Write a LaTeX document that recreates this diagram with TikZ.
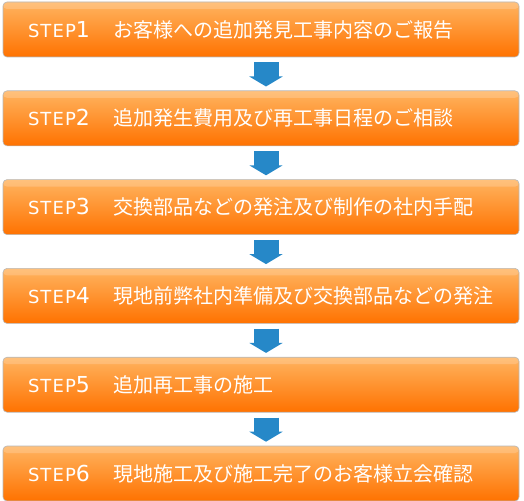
\documentclass[tikz,border=0pt]{standalone}
\usepackage{fontspec}
\setmainfont{DejaVu Sans}
\newfontfamily\jpfont{Noto Sans CJK JP}
\usetikzlibrary{calc,positioning,arrows.meta}
\definecolor{orangetop}{RGB}{255,180,96}
\definecolor{orangebot}{RGB}{255,114,0}
\definecolor{arrowblue}{RGB}{38,136,200}
\newcommand{\stepno}[1]{{\rmfamily\fontsize{18}{18}\selectfont\addfontfeature{LetterSpace=6}STEP}{\rmfamily\fontsize{22}{22}\selectfont #1}\hspace{24pt}}
\tikzset{
  stepbox/.style={rounded corners=4pt, draw=black!28, line width=0.6pt,
    top color=orangetop, bottom color=orangebot,
    minimum width=516pt, minimum height=55pt, text width=466pt, inner xsep=25pt,
    align=left, text=white, font=\jpfont\fontsize{20}{20}\selectfont,
    path picture={\fill[white, opacity=0.18] (path picture bounding box.north west) rectangle ([yshift=-7pt]path picture bounding box.north east);}},
  downarrow/.style={draw=arrowblue, line width=25pt, shorten <=5pt, shorten >=4pt,
    -{Triangle[width=33pt, length=10pt]}}
}
\begin{document}
\begin{tikzpicture}[node distance=33.2pt]
  \useasboundingbox (0,0) rectangle (524pt,-500pt);
  % Steps
  \node[stepbox] (s1) at (261pt,-29.5pt) {\stepno{1}お客様への追加発見工事内容のご報告};
  \node[stepbox, below=of s1] (s2) {\stepno{2}追加発生費用及び再工事日程のご相談};
  \node[stepbox, below=of s2] (s3) {\stepno{3}交換部品などの発注及び制作の社内手配};
  \node[stepbox, below=of s3] (s4) {\stepno{4}現地前弊社内準備及び交換部品などの発注};
  \node[stepbox, below=of s4] (s5) {\stepno{5}追加再工事の施工};
  \node[stepbox, below=of s5] (s6) {\stepno{6}現地施工及び施工完了のお客様立会確認};

  % Arrows between steps
  \foreach \i [evaluate=\i as \j using int(\i+1)] in {1,...,5}
    \draw[downarrow] ([xshift=5pt]s\i.south) -- ([xshift=5pt]s\j.north);
\end{tikzpicture}
\end{document}
